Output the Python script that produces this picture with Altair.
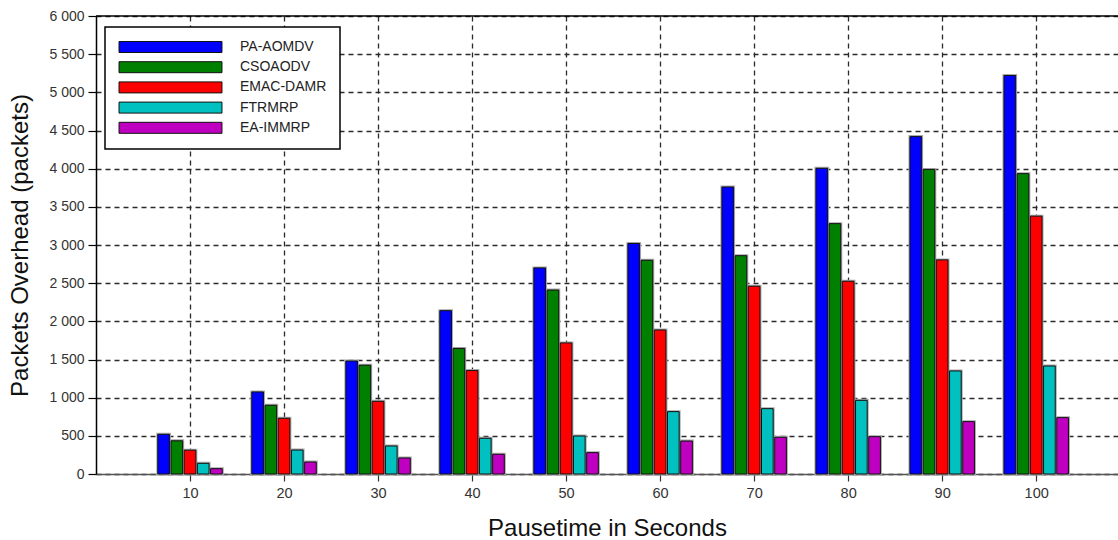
import altair as alt
import pandas as pd

pausetime = [10, 20, 30, 40, 50, 60, 70, 80, 90, 100]
series = ["PA-AOMDV", "CSOAODV", "EMAC-DAMR", "FTRMRP", "EA-IMMRP"]
colors = ["#0000FF", "#008000", "#FF0000", "#00C0C0", "#C000C0"]

pa_aomdv = [520, 1075, 1480, 2140, 2700, 3020, 3760, 4005, 4420, 5220]
csoaodv = [435, 900, 1425, 1645, 2410, 2800, 2860, 3280, 3990, 3935]
emac_damr = [312, 730, 952, 1355, 1717, 1887, 2460, 2525, 2805, 3378]
ftrmrp = [140, 314, 367, 468, 498, 817, 856, 965, 1350, 1415]
ea_immrp = [70, 157, 210, 258, 280, 432, 481, 489, 686, 738]

y_ticks = [0, 500, 1000, 1500, 2000, 2500, 3000, 3500, 4000, 4500, 5000, 5500, 6000]

values = [pa_aomdv, csoaodv, emac_damr, ftrmrp, ea_immrp]
rows = []
for i, (name, vals) in enumerate(zip(series, values)):
    for p, v in zip(pausetime, vals):
        rows.append({"pause": p, "series": name, "idx": i, "value": v})
df = pd.DataFrame(rows)

FONT = "Liberation Sans"

x_enc = alt.X("x0:Q",
              scale=alt.Scale(domain=[0, 108.7], nice=False, zero=False, padding=0),
              axis=alt.Axis(values=pausetime, tickCount=len(pausetime) + 2,
                            title="Pausetime in Seconds",
                            grid=True, gridDash=[5, 4], gridColor="#2a2a2a", gridWidth=1.3,
                            domainColor="#555", domainWidth=1.5,
                            tickColor="#333", tickSize=7, tickWidth=1.2,
                            labelFontSize=14.5, labelColor="#333", labelPadding=5,
                            labelOverlap=False,
                            titleFontSize=24, titleFontWeight="normal", titleColor="#111",
                            titlePadding=17, labelFont=FONT, titleFont=FONT))
y_enc = alt.Y("value:Q",
              scale=alt.Scale(domain=[0, 6000], nice=False, padding=0),
              axis=alt.Axis(values=y_ticks, tickCount=len(y_ticks) + 2,
                            title="Packets Overhead (packets)",
                            labelExpr="replace(format(datum.value, ','), ',', ' ')",
                            grid=True, gridDash=[5, 4], gridColor="#2a2a2a", gridWidth=1.3,
                            domainColor="#000", domainWidth=1.5,
                            tickColor="#000", tickSize=8, tickWidth=1.2,
                            labelFontSize=14, labelColor="#333", labelPadding=4,
                            labelOverlap=False,
                            titleFontSize=24, titleFontWeight="normal", titleColor="#111",
                            titlePadding=16, labelFont=FONT, titleFont=FONT))

base = alt.Chart(df).transform_calculate(
    x0="datum.pause + (datum.idx - 2) * 1.404 - 0.62",
    x1="datum.pause + (datum.idx - 2) * 1.404 + 0.62",
)

halo = base.mark_bar(fillOpacity=0, stroke="#a8a8a8", strokeWidth=3).encode(
    x=x_enc, x2="x1:Q", y=y_enc, y2=alt.datum(0),
)

bars = base.mark_bar(stroke="#111", strokeWidth=1).encode(
    x=x_enc,
    x2="x1:Q",
    y=y_enc,
    y2=alt.datum(0),
    color=alt.Color("series:N",
                    scale=alt.Scale(domain=series, range=colors),
                    sort=series,
                    legend=alt.Legend(
                        title=None, orient="none", legendX=9, legendY=11,
                        direction="vertical",
                        fillColor="white", strokeColor="black",
                        padding=13,
                        symbolType="M-9.36,-1L9.36,-1L9.36,1L-9.36,1Z",
                        symbolSize=121,
                        symbolStrokeColor="#111", symbolStrokeWidth=1,
                        symbolOpacity=1,
                        symbolOffset=45.5,
                        labelOffset=62.5,
                        labelFontSize=14, labelColor="#222", labelFont=FONT,
                        rowPadding=4.2,
                    )),
)

top_border = alt.Chart(alt.Data(values=[{}])).mark_rule(
    color="#000", strokeWidth=1.5
).encode(y=alt.datum(6000))

chart = alt.layer(halo, bars, top_border).properties(
    width=1022, height=458,
    autosize=alt.AutoSizeParams(type="none"),
    padding={"left": 96, "top": 16, "right": 0, "bottom": 66},
).configure_view(stroke=None).configure_legend(strokeWidth=1.5)

chart.save("out.html", embed_options={"renderer": "svg", "actions": False})
